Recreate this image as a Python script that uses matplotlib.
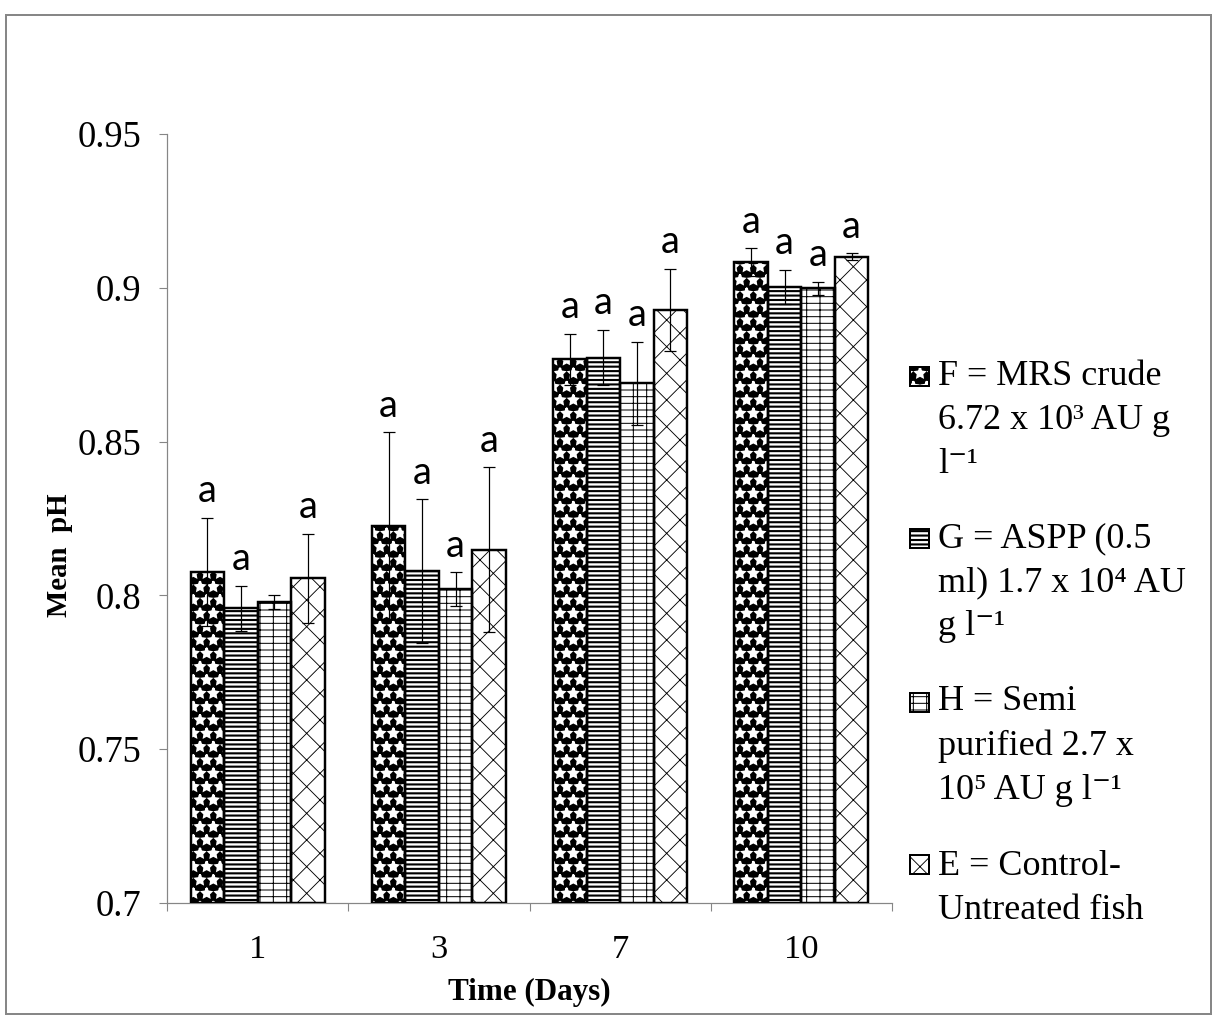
import matplotlib
matplotlib.use("Agg")
import matplotlib.pyplot as plt
from matplotlib.patches import Rectangle
import numpy as np

# mean pH per sampling day, one list per treatment
days = ["1", "3", "7", "10"]

ph_F = [0.8077, 0.8226, 0.8767, 0.9083]
ph_G = [0.7958, 0.8079, 0.8773, 0.9003]
ph_H = [0.7979, 0.8020, 0.8689, 0.8998]
ph_E = [0.8055, 0.8148, 0.8928, 0.9101]

sd_F = [0.0175, 0.0304, 0.0083, 0.0046]
sd_G = [0.0074, 0.0234, 0.0090, 0.0055]
sd_H = [0.0023, 0.0055, 0.0136, 0.0022]
sd_E = [0.0145, 0.0268, 0.0133, 0.0011]

# significance letters above the bars ("" = none)
sig_F = ["a", "a", "a", "a"]
sig_G = ["a", "a", "a", "a"]
sig_H = ["", "a", "a", "a"]
sig_E = ["a", "a", "a", "a"]

labels = [
    "F = MRS crude\n6.72 x 10\u00b3 AU g\nl\u207b\u00b9",
    "G = ASPP (0.5\nml) 1.7 x 10\u2074 AU\ng l\u207b\u00b9",
    "H = Semi\npurified 2.7 x\n10\u2075 AU g l\u207b\u00b9",
    "E = Control-\nUntreated fish",
]
yticks = [0.7, 0.75, 0.8, 0.85, 0.9, 0.95]
ytick_labels = ["0.7", "0.75", "0.8", "0.85", "0.9", "0.95"]

serif = ["Liberation Serif", "DejaVu Serif"]
plt.rcParams["font.family"] = serif

# face, hatch colour, hatch, hatch linewidth
series = [
    (ph_F, sd_F, sig_F, "black", "white", "*", 2.0),
    (ph_G, sd_G, sig_G, "white", "black", "---", 1.9),
    (ph_H, sd_H, sig_H, "white", "black", "+-", 0.9),
    (ph_E, sd_E, sig_E, "white", "black", "x", 0.8),
]

W, H = 1216, 1017
DPI = 80
fig = plt.figure(figsize=(W / DPI, H / DPI), dpi=DPI)
ax = fig.add_axes([167 / W, 1 - 903 / H, (892 - 167) / W, (903 - 134) / H])

x = np.arange(len(days))
width = 0.185
base = 0.7

for i, (vals, sds, sig, face, hcol, hatch, hlw) in enumerate(series):
    pos = x + (i - 1.5) * width
    heights = np.array(vals) - base
    bars = ax.bar(pos, heights, width, bottom=base, facecolor=face,
                  edgecolor=hcol, hatch=hatch, linewidth=0, zorder=2)
    for b in bars:
        if hasattr(b, "set_hatch_linewidth"):
            b.set_hatch_linewidth(hlw)
    ax.bar(pos, heights, width, bottom=base, fill=False, edgecolor="black",
           linewidth=2.2, zorder=3)
    ax.errorbar(pos, vals, yerr=sds, fmt="none", ecolor="black",
                elinewidth=1.1, capsize=5.5, capthick=1.1, zorder=4)
    for p, v, s, t in zip(pos, vals, sds, sig):
        if t:
            ax.annotate(t, (p, v + s), xytext=(0, 14), textcoords="offset points",
                        ha="center", va="baseline", family="Lato", fontsize=34)

ax.set_xlim(-0.5, len(days) - 0.5)
ax.set_ylim(0.7, 0.95)
ax.set_yticks(yticks)
ax.set_yticklabels(ytick_labels)
ax.set_xticks(x)
ax.set_xticklabels(days)
ax.set_xticks(np.arange(len(days) + 1) - 0.5, minor=True)
ax.tick_params(axis="x", which="major", length=0, pad=28, labelsize=31)
ax.tick_params(axis="x", which="minor", length=7.5, width=1, color="#868686")
ax.tick_params(axis="y", length=7, width=1, color="#868686", pad=16, labelsize=33)

for side in ("top", "right"):
    ax.spines[side].set_visible(False)
for side in ("left", "bottom"):
    ax.spines[side].set_color("#868686")
    ax.spines[side].set_linewidth(1.1)

ax.set_xlabel("Time (Days)", fontsize=28, fontweight="bold", labelpad=12)
ax.set_ylabel("Mean  pH", fontsize=26, fontweight="bold")
ax.yaxis.set_label_coords(-0.13, 0.452)

# legend drawn by hand so each swatch sits on the first line of its label
first_baselines = [389, 551, 715, 877]
line_gap = 42
for (vals, sds, sig, face, hcol, hatch, hlw), lab, yb in zip(series, labels, first_baselines):
    sw = Rectangle((910 / W, 1 - (yb - 3) / H), 19 / W, 19 / H,
                   transform=fig.transFigure, facecolor=face,
                   edgecolor=hcol, hatch=hatch, linewidth=0)
    if hasattr(sw, "set_hatch_linewidth"):
        sw.set_hatch_linewidth(hlw)
    fig.add_artist(sw)
    fig.add_artist(Rectangle((910 / W, 1 - (yb - 3) / H), 19 / W, 19 / H,
                             transform=fig.transFigure, fill=False,
                             edgecolor="black", linewidth=1.8))
    # multi-line text with va="baseline" sits on its last line
    y_last = yb + (lab.count("\n")) * line_gap
    fig.text(938 / W, 1 - y_last / H, lab, fontsize=32.5, va="baseline",
             ha="left", linespacing=1.44)

fig.add_artist(Rectangle((6 / W, 1 - 1014 / H), 1205 / W, 999 / H,
                         transform=fig.transFigure, fill=False,
                         edgecolor="#878787", linewidth=1.8))

fig.savefig("out.png", dpi=DPI)
